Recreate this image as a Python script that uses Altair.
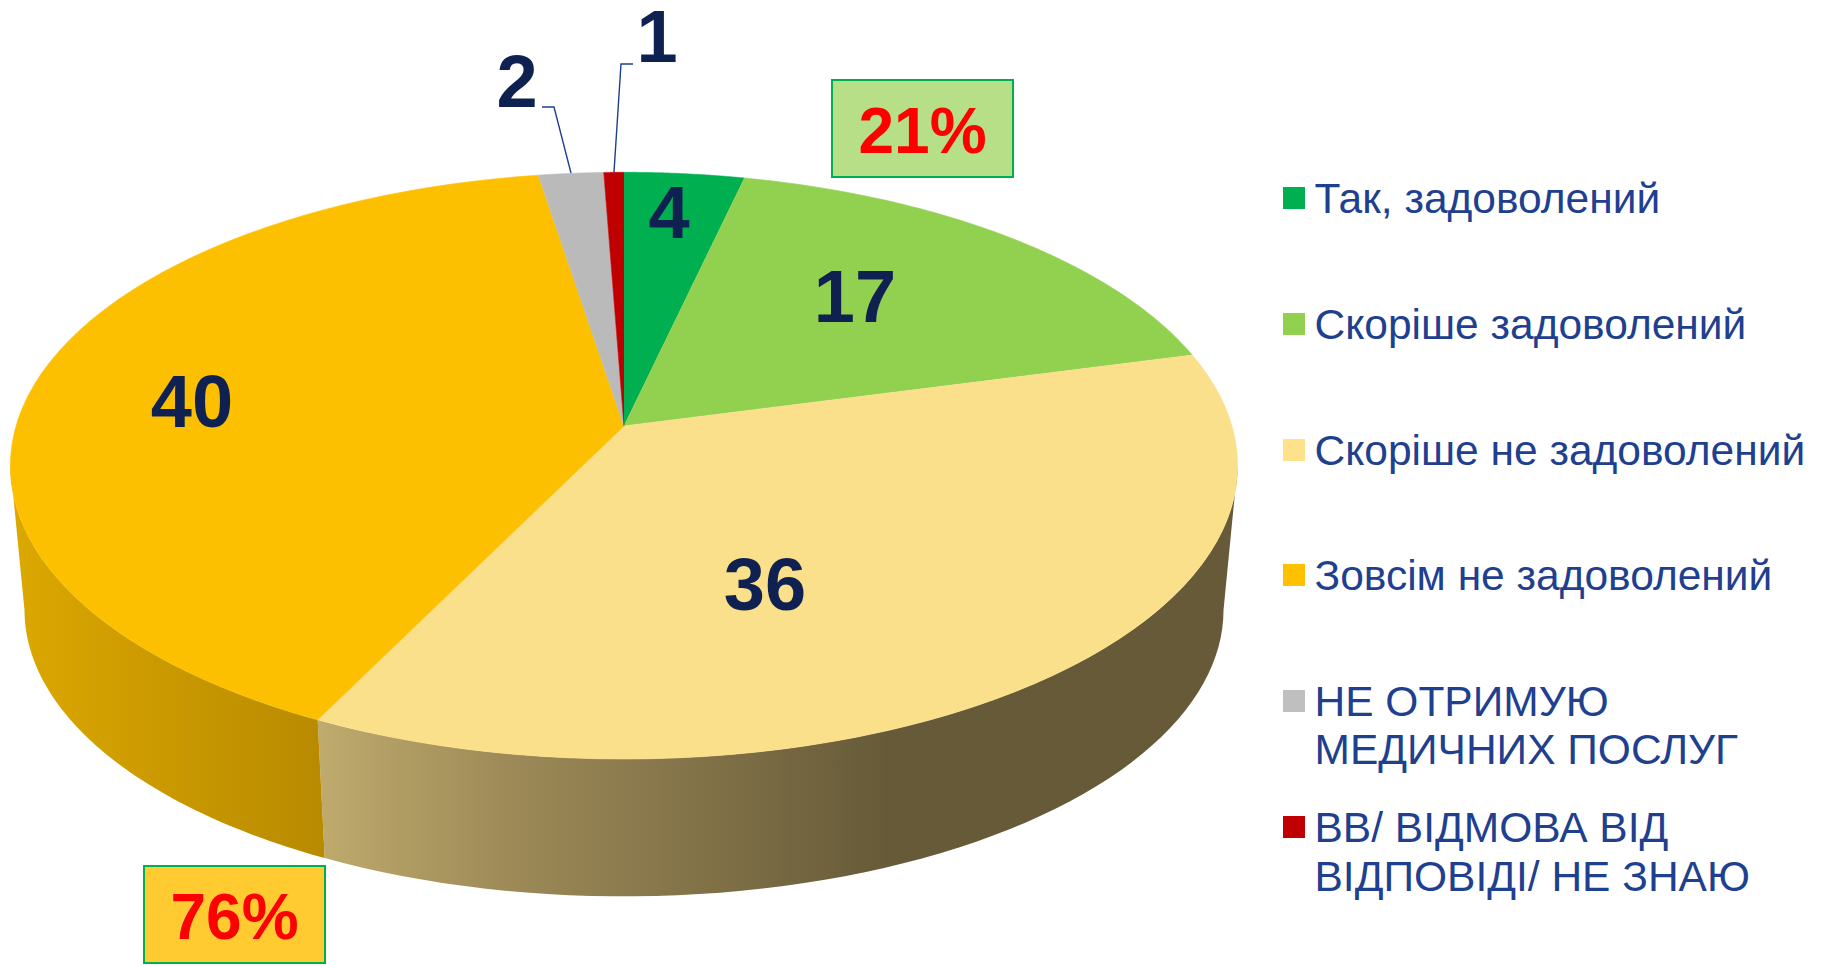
import math
import altair as alt
import pandas as pd

# --- chart values ---
categories = ["Так, задоволений", "Скоріше задоволений", "Скоріше не задоволений",
              "Зовсім не задоволений", "НЕ ОТРИМУЮ МЕДИЧНИХ ПОСЛУГ", "ВВ/ ВІДМОВА ВІД ВІДПОВІДІ/ НЕ ЗНАЮ"]
shares = [3.6, 17.3, 36.4, 40.15, 1.95, 0.6]
shown_labels = ["4", "17", "36", "40", "2", "1"]
top_colors = ["#00B050", "#92D050", "#FBE08C", "#FCC000", "#BABABA", "#C00000"]
legend_colors = ["#00B050", "#92D050", "#FFE18B", "#FFC000", "#BFBFBF", "#C00000"]
legend_lines = [["Так, задоволений"], ["Скоріше задоволений"], ["Скоріше не задоволений"],
                ["Зовсім не задоволений"], ["НЕ ОТРИМУЮ", "МЕДИЧНИХ ПОСЛУГ"],
                ["ВВ/ ВІДМОВА ВІД", "ВІДПОВІДІ/ НЕ ЗНАЮ"]]
legend_square_y = [198, 324, 450, 575, 701, 827]
legend_baselines = [[213], [339], [465], [590], [716, 764], [842, 891]]
label_x = [669, 855, 765, 192, 517, 657]
label_y = [238, 322, 610, 427, 107, 62]
box_labels = ["21%", "76%"]
box_x = [832, 144]
box_x2 = [1013, 325]
box_y = [80, 866]
box_y2 = [177, 963]
box_fill = ["#B7DF87", "#FFCB31"]
box_text_y = [153, 939]
leader_2 = [(542, 107), (554, 107), (571, 173)]
leader_1 = [(633, 64), (621, 64), (614, 172)]

# --- perspective disc ---
CX, CY, A, B, K = 624.0, 426.0, 608.0, 288.0, 0.1352
S, CY2 = 0.977, 571.0


def top(theta):
    t = math.radians(theta)
    w = 1 + K * math.cos(t)
    return CX + A * math.sin(t) / w, CY - B * math.cos(t) / w


def bottom(theta):
    t = math.radians(theta)
    w = 1 + K * math.cos(t)
    return CX + S * A * math.sin(t) / w, CY2 - S * B * math.cos(t) / w


def arc(fn, a, b, n=60):
    return [fn(a + (b - a) * i / n) for i in range(n + 1)]


def frame(pts):
    return pd.DataFrame({"x": [p[0] for p in pts], "y": [p[1] for p in pts], "i": range(len(pts))})


XS = alt.Scale(domain=[8, 1817])
YS = alt.Scale(domain=[964, 8])
X = alt.X("x:Q", scale=XS, axis=None)
Y = alt.Y("y:Q", scale=YS, axis=None)
ORDER = alt.Order("i:Q")


def poly(pts, **kw):
    return alt.Chart(frame(pts)).mark_line(interpolate="linear", **kw).encode(x=X, y=Y, order=ORDER)


total = sum(shares)
bounds = [0.0]
for v in shares:
    bounds.append(bounds[-1] + v / total * 360)

TANGENT_R, TANGENT_L = 97.8, 262.2
split = bounds[3]

layers = []
# side walls
yellow_wall = arc(top, TANGENT_R, split) + arc(bottom, split, TANGENT_R)
orange_wall = arc(top, split, TANGENT_L) + arc(bottom, TANGENT_L, split)
layers.append(poly(yellow_wall, strokeOpacity=0, fill=alt.Gradient(
    gradient="linear", x1=0, x2=1, y1=0, y2=0,
    stops=[alt.GradientStop(color="#BFAB6D", offset=0),
           alt.GradientStop(color="#9E8B58", offset=0.2),
           alt.GradientStop(color="#665A38", offset=0.62),
           alt.GradientStop(color="#685A38", offset=1)])))
layers.append(poly(orange_wall, strokeOpacity=0, fill=alt.Gradient(
    gradient="linear", x1=0, x2=1, y1=0, y2=0,
    stops=[alt.GradientStop(color="#DCA800", offset=0),
           alt.GradientStop(color="#B88A00", offset=1)])))

# top face slices
for i, col in enumerate(top_colors):
    pts = [(CX, CY)] + arc(top, bounds[i], bounds[i + 1])
    layers.append(poly(pts, fill=col, stroke=col, strokeWidth=0.6))

# leader lines
for leader in (leader_2, leader_1):
    layers.append(alt.Chart(frame(leader)).mark_line(color="#1F3F8F", strokeWidth=1.4, interpolate="linear")
                  .encode(x=X, y=Y, order=ORDER))

# data labels
labels = pd.DataFrame({"x": label_x, "y": label_y, "t": shown_labels})
layers.append(alt.Chart(labels).mark_text(font="Liberation Sans", fontWeight="bold", fontSize=74,
                                          color="#0F2150", align="center", baseline="alphabetic")
              .encode(x=X, y=Y, text="t:N"))

# callout boxes
boxes = pd.DataFrame({"x": box_x, "x2": box_x2, "y": box_y, "y2": box_y2, "fill": box_fill,
                      "t": box_labels, "ty": box_text_y})
boxes["cx"] = (boxes.x + boxes.x2) / 2
layers.append(alt.Chart(boxes).mark_rect(stroke="#00B050", strokeWidth=2)
              .encode(x=X, x2="x2:Q", y=Y, y2="y2:Q", fill=alt.Fill("fill:N", scale=None)))
layers.append(alt.Chart(boxes).mark_text(font="Liberation Sans", fontWeight="bold", fontSize=64,
                                         color="#FF0000", align="center", baseline="alphabetic")
              .encode(x=alt.X("cx:Q", scale=XS, axis=None), y=alt.Y("ty:Q", scale=YS, axis=None), text="t:N"))

# legend
squares = pd.DataFrame({"x": [1294] * 6, "y": legend_square_y, "c": legend_colors, "cat": categories})
layers.append(alt.Chart(squares).mark_point(shape="square", filled=True, size=484, opacity=1)
              .encode(x=X, y=Y, fill=alt.Fill("c:N", scale=None), stroke=alt.value(None)))
rows = []
for lines, ys in zip(legend_lines, legend_baselines):
    for line, y in zip(lines, ys):
        rows.append({"x": 1314.5, "y": y, "t": line})
layers.append(alt.Chart(pd.DataFrame(rows)).mark_text(font="Liberation Sans", fontSize=42.5, color="#1F3F8F",
                                                      align="left", baseline="alphabetic")
              .encode(x=X, y=Y, text="t:N"))

chart = (alt.layer(*layers)
         .properties(width=1809, height=956, padding=0, autosize=alt.AutoSizeParams(type="none"))
         .configure_view(stroke=None))

chart.save("out.html", embed_options={"renderer": "svg", "actions": False})
